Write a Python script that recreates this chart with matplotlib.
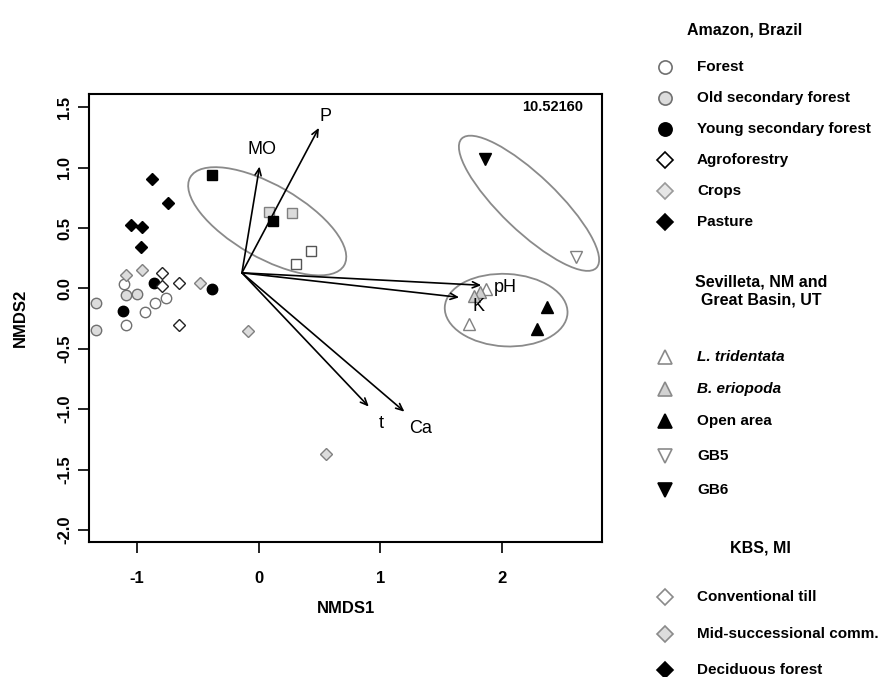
import matplotlib
matplotlib.use("Agg")
import matplotlib.pyplot as plt
from matplotlib.patches import Ellipse
from matplotlib.lines import Line2D

plt.rcParams['font.family'] = ['Liberation Sans', 'DejaVu Sans']

# Amazon, Brazil site scores
forest_x = [-1.111, -0.760, -0.856, -0.938, -1.091]
forest_y = [0.036, -0.083, -0.124, -0.193, -0.304]
oldsec_x = [-1.091, -0.998, -1.338, -1.338]
oldsec_y = [-0.055, -0.047, -0.124, -0.345]
youngsec_x = [-0.864, -1.119, -0.385]
youngsec_y = [0.041, -0.185, -0.008]
agro_x = [-0.795, -0.795, -0.653, -0.659]
agro_y = [0.124, 0.019, 0.041, -0.304]
crops_x = [-1.091, -0.960, -0.483, -0.089, 0.555]
crops_y = [0.110, 0.151, 0.041, -0.351, -1.371]
pasture_x = [-0.877, -0.749, -1.050, -0.960, -0.965]
pasture_y = [0.910, 0.711, 0.526, 0.507, 0.347]

# KBS, MI
till_x = [0.429, 0.303]
till_y = [0.306, 0.201]
midsucc_x = [0.084, 0.275]
midsucc_y = [0.631, 0.623]
decid_x = [-0.382, 0.117]
decid_y = [0.940, 0.559]

# Sevilleta / Great Basin
ltrid_x = [1.872, 1.726]
ltrid_y = [-0.002, -0.296]
berio_x = [1.821, 1.773]
berio_y = [-0.026, -0.060]
openarea_x = [2.370, 2.285]
openarea_y = [-0.152, -0.336]
gb5_x = [2.606]
gb5_y = [0.257]
gb6_x = [1.858]
gb6_y = [1.075]

# environmental vectors (fitted)
vec_origin = (-0.138, 0.129)
vec_names = ['MO', 'P', 'pH', 'K', 't', 'Ca']
vec_x = [0.007, 0.495, 1.830, 1.648, 0.905, 1.198]
vec_y = [1.010, 1.330, 0.026, -0.074, -0.979, -1.021]
vlab_x = [0.030, 0.546, 2.030, 1.810, 1.007, 1.333]
vlab_y = [1.150, 1.425, 0.005, -0.150, -1.117, -1.164]

stress_txt = '10.52160'

fig = plt.figure(figsize=(8.8, 6.77), dpi=100)
ax = fig.add_axes([89/880, 1-542/677, (602-89)/880, (542-94)/677])

ax.plot(forest_x, forest_y, 'o', ms=7.5, mfc='white', mec='#707070', mew=1)
ax.plot(oldsec_x, oldsec_y, 'o', ms=7.5, mfc='#dcdcdc', mec='#707070', mew=1)
ax.plot(youngsec_x, youngsec_y, 'o', ms=7.5, mfc='black', mec='black')
ax.plot(agro_x, agro_y, 'D', ms=6.3, mfc='white', mec='#222222', mew=1)
ax.plot(crops_x, crops_y, 'D', ms=6.3, mfc='#dcdcdc', mec='#808080', mew=1)
ax.plot(pasture_x, pasture_y, 'D', ms=6.3, mfc='black', mec='black')

ax.plot(till_x, till_y, 's', ms=7, mfc='white', mec='#555555', mew=1)
ax.plot(midsucc_x, midsucc_y, 's', ms=7, mfc='#dcdcdc', mec='#808080', mew=1)
ax.plot(decid_x, decid_y, 's', ms=7, mfc='black', mec='black')

ax.plot(ltrid_x, ltrid_y, '^', ms=8, mfc='white', mec='#808080', mew=1)
ax.plot(berio_x, berio_y, '^', ms=8, mfc='#cfcfcf', mec='#808080', mew=1)
ax.plot(openarea_x, openarea_y, '^', ms=8, mfc='black', mec='black')
ax.plot(gb5_x, gb5_y, 'v', ms=8, mfc='white', mec='#808080', mew=1)
ax.plot(gb6_x, gb6_y, 'v', ms=8, mfc='black', mec='black')

# group ellipses
for c, w, h, a in [((0.07, 0.556), 1.46, 0.60, -30),
                   ((2.222, 0.705), 1.54, 0.46, -44),
                   ((2.034, -0.18), 1.01, 0.60, -3)]:
    ax.add_patch(Ellipse(c, w, h, angle=a, fill=False, ec='#8a8a8a', lw=1.3))

for name, x, y, lx, ly in zip(vec_names, vec_x, vec_y, vlab_x, vlab_y):
    ax.annotate('', xy=(x, y), xytext=vec_origin,
                arrowprops=dict(arrowstyle='->,head_length=0.5,head_width=0.22',
                                color='black', lw=1.2, shrinkA=0, shrinkB=0))
    ax.text(lx, ly, name, fontsize=13, ha='center', va='center')

ax.text(0.963, 0.971, stress_txt, transform=ax.transAxes, ha='right', va='center',
        fontsize=10.5, fontweight='bold')

ax.set_xlim(-1.395, 2.822)
ax.set_ylim(-2.10, 1.61)
ax.set_xticks([-1, 0, 1, 2])
ax.set_xticklabels(['-1', '0', '1', '2'])
ax.set_yticks([-2, -1.5, -1, -0.5, 0, 0.5, 1, 1.5])
ax.set_yticklabels(['-2.0', '-1.5', '-1.0', '-0.5', '0.0', '0.5', '1.0', '1.5'])
ax.tick_params(axis='x', length=8, width=1.2, pad=13, labelsize=12)
ax.tick_params(axis='y', length=8, width=1.2, pad=4, labelsize=12, labelrotation=90)
for lbl in ax.get_xticklabels() + ax.get_yticklabels():
    lbl.set_fontweight('bold')
for lbl in ax.get_yticklabels():
    lbl.set_va('center')
for sp in ax.spines.values():
    sp.set_linewidth(1.5)

ax.set_xlabel('NMDS1', fontsize=12, fontweight='bold')
ax.xaxis.set_label_coords(0.5, -0.132)
ax.set_ylabel('NMDS2', fontsize=12, fontweight='bold')
ax.yaxis.set_label_coords(-0.119, 0.5)

# legend panel, drawn in figure pixel space
lax = fig.add_axes([0, 0, 1, 1])
lax.set_xlim(0, 880)
lax.set_ylim(677, 0)
lax.axis('off')

headings = [('Amazon, Brazil', 745, 30),
            ('Sevilleta, NM and\nGreat Basin, UT', 761, 291),
            ('KBS, MI', 760, 548)]
for txt, x, y in headings:
    lax.text(x, y, txt, ha='center', va='center', fontsize=11.5, fontweight='bold',
             linespacing=1.2)

entries = [
    ('Forest', 67, 'o', 'white', '#707070', 'normal'),
    ('Old secondary forest', 98, 'o', '#dcdcdc', '#707070', 'normal'),
    ('Young secondary forest', 129, 'o', 'black', 'black', 'normal'),
    ('Agroforestry', 160, 'D', 'white', 'black', 'normal'),
    ('Crops', 191, 'D', '#e6e6e6', '#9a9a9a', 'normal'),
    ('Pasture', 222, 'D', 'black', 'black', 'normal'),
    ('L. tridentata', 357, '^', 'white', '#8a8a8a', 'italic'),
    ('B. eriopoda', 389, '^', '#d2d2d2', '#8a8a8a', 'italic'),
    ('Open area', 421, '^', 'black', 'black', 'normal'),
    ('GB5', 456, 'v', 'white', '#8a8a8a', 'normal'),
    ('GB6', 490, 'v', 'black', 'black', 'normal'),
    ('Conventional till', 597, 'D', 'white', '#8a8a8a', 'normal'),
    ('Mid-successional comm.', 634, 'D', '#dcdcdc', '#8a8a8a', 'normal'),
    ('Deciduous forest', 670, 'D', 'black', 'black', 'normal'),
]
for label, y, mk, fc, ec, style in entries:
    size = 9.5 if mk == 'o' else (8 if mk == 'D' else 10)
    lax.add_line(Line2D([665], [y], marker=mk, ms=size, mfc=fc, mec=ec, mew=1.2,
                        ls='none'))
    lax.text(697, y, label, ha='left', va='center', fontsize=11,
             fontweight='bold', fontstyle=style)

fig.savefig('out.png', dpi=100)
